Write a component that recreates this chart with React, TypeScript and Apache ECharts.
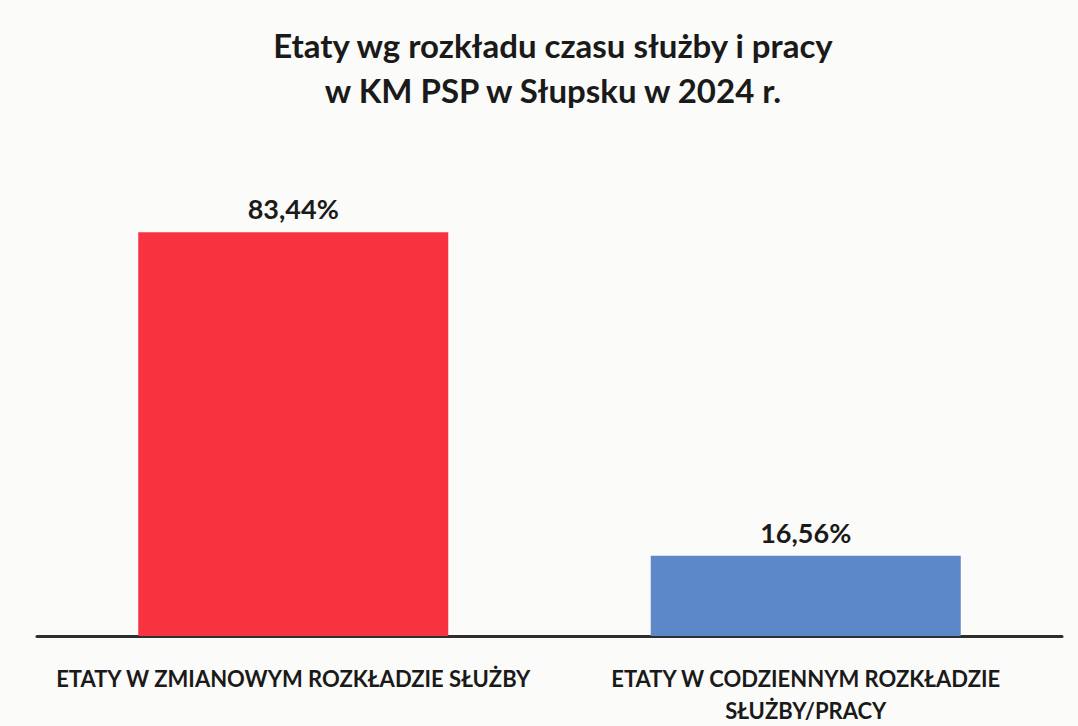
import React, { useEffect, useRef } from "react";
import * as echarts from "echarts";

const categories = ["ETATY W ZMIANOWYM ROZKŁADZIE SŁUŻBY", "ETATY W CODZIENNYM ROZKŁADZIE\nSŁUŻBY/PRACY"];
const values = [83.44, 16.56];
const barColors = ["#f7333f", "#5c87c9"];
const titleText = "Etaty wg rozkładu czasu służby i pracy\nw KM PSP w Słupsku w 2024 r.";

export default function App() {
  const ref = useRef<HTMLDivElement>(null);
  useEffect(() => {
    document.body.style.margin = "0";
    const chart = echarts.init(ref.current!, undefined, { renderer: "svg" });
    const font = "Lato, 'Open Sans', sans-serif";
    chart.setOption({
      animation: false,
      backgroundColor: "#fbfbf9",
      title: {
        text: titleText,
        left: 548,
        top: 17,
        textAlign: "center",
        textStyle: { fontFamily: font, fontWeight: "bold", fontSize: 33, lineHeight: 45, color: "#1a1a1a" },
      },
      grid: { left: 37, right: 16, top: 152, bottom: 90, outerBoundsMode: "none", containLabel: false },
      xAxis: {
        type: "category",
        data: categories,
        axisLine: { lineStyle: { color: "#2e2e2e", width: 3 } },
        axisTick: { show: false },
        axisLabel: {
          interval: 0,
          margin: 26,
          fontFamily: font,
          fontWeight: "bold",
          fontSize: 22,
          lineHeight: 32,
          color: "#1a1a1a",
        },
      },
      yAxis: { type: "value", min: 0, max: 100, show: false, splitLine: { show: false } },
      series: [
        {
          type: "bar",
          barWidth: 310,
          data: values.map((v, i) => ({ value: v, itemStyle: { color: barColors[i] } })),
          label: {
            show: true,
            position: "top",
            distance: 10,
            formatter: (p: any) => p.value.toFixed(2).replace(".", ",") + "%",
            fontFamily: font,
            fontWeight: "bold",
            fontSize: 27,
            color: "#1a1a1a",
          },
        },
      ],
    });
    return () => chart.dispose();
  }, []);
  return <div ref={ref} style={{ width: 1078, height: 726 }} />;
}
